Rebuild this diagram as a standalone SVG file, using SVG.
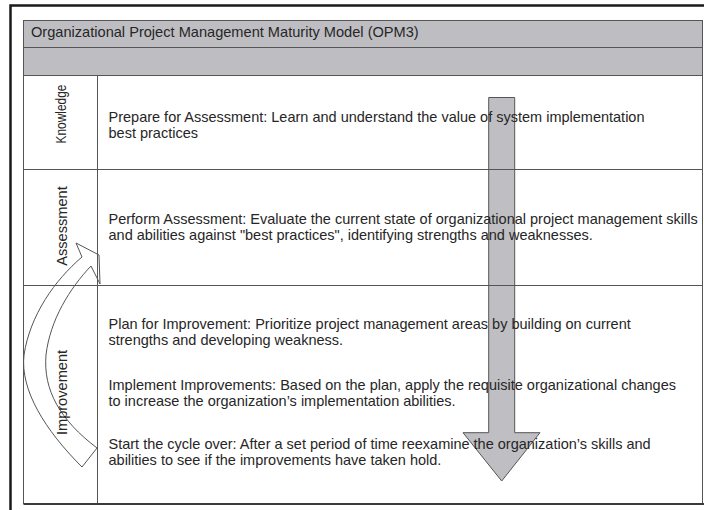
<svg xmlns="http://www.w3.org/2000/svg" width="704" height="510" viewBox="0 0 704 510">
<style>
.t{font-family:"Liberation Sans",Arial,sans-serif;font-size:14.5px;fill:#262626}
.lbl{font-family:"Liberation Sans",Arial,sans-serif;font-size:14.6px;fill:#262626;text-anchor:middle}
.ln{stroke:#555;stroke-width:1;fill:none}
.gray{fill:#bebec2;stroke:#555;stroke-width:1}
</style>
<rect width="704" height="510" fill="#fff"/>
<g id="frame">
<path d="M10.5,510 V5.5 H704" fill="none" stroke="#1a1a1a" stroke-width="2.5"/>
</g>
<g id="header">
<rect x="23.5" y="20.5" width="679" height="27" class="gray"/>
<text class="t" x="31" y="36.5" style="font-size:14.6px">Organizational Project Management Maturity Model (OPM3)</text>
<rect x="23.5" y="47.5" width="679" height="28" class="gray"/>
</g>
<g id="down-arrow">
<polygon points="488.7,97.5 514.7,97.5 514.7,432.7 540,432.7 501.7,481 463,432.7 488.7,432.7" fill="#bfbfc3" stroke="#555" stroke-width="1"/>
</g>
<g id="connectors">
<path class="ln" d="M23.5,75.5 V504 M702.5,75.5 V504 M97.5,75.5 V505 M23.5,169.5 H702.5 M23.5,285.5 H702.5"/>
<path d="M23.5,504 H704" stroke="#3a3a3a" stroke-width="2"/>
<path id="cycle-arrow" class="ln" stroke="#444" d="M82,257 L76,243 L99,255 L100,284 L91,266 C70,288 50,320 46,355 C43,390 60,420 97,448 L82,467 C45,430 20,390 24,355 C30,315 55,280 82,257 Z"/>
</g>
<g id="knowledge">
<text class="lbl" transform="translate(66,114) rotate(-90)" textLength="59" lengthAdjust="spacingAndGlyphs">Knowledge</text>
<text class="t" x="108.5" y="121.5">Prepare for Assessment: Learn and understand the value of system implementation</text>
<text class="t" x="108.5" y="137.5">best practices</text>
</g>
<g id="assessment">
<text class="lbl" transform="translate(66.5,226) rotate(-90)">Assessment</text>
<text class="t" x="108.5" y="224">Perform Assessment: Evaluate the current state of organizational project management skills</text>
<text class="t" x="108.5" y="240">and abilities against "best practices", identifying strengths and weaknesses.</text>
</g>
<g id="improvement">
<text class="lbl" transform="translate(66.5,392.5) rotate(-90)">Improvement</text>
<text class="t" x="108.5" y="329">Plan for Improvement: Prioritize project management areas by building on current</text>
<text class="t" x="108.5" y="344.5">strengths and developing weakness.</text>
<text class="t" x="108.5" y="390">Implement Improvements: Based on the plan, apply the requisite organizational changes</text>
<text class="t" x="108.5" y="406">to increase the organization’s implementation abilities.</text>
<text class="t" x="108.5" y="449">Start the cycle over: After a set period of time reexamine the organization’s skills and</text>
<text class="t" x="108.5" y="465">abilities to see if the improvements have taken hold.</text>
</g>
</svg>
